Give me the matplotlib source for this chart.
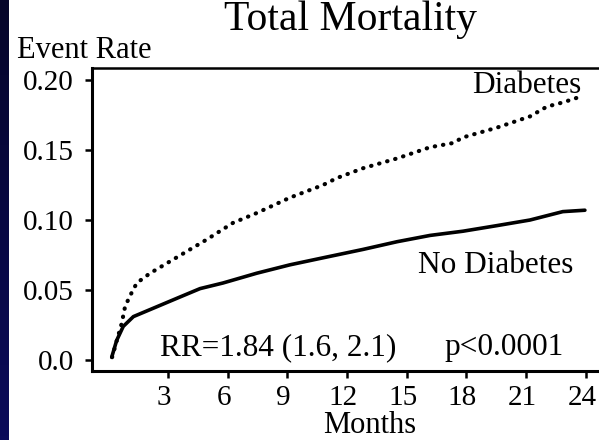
import numpy as np
import matplotlib
matplotlib.use("Agg")
import matplotlib.pyplot as plt
import matplotlib.transforms as mtransforms

# cumulative event rate by month of follow-up
diab_months = [0.19, 0.67, 0.84, 1.06, 1.43, 2.10, 2.93, 4.11, 4.94, 6.27, 7.46, 9.13,
               10.79, 11.49, 12.80, 14.51, 16.17, 17.32, 17.82, 19.53, 21.19, 22.04,
               22.84, 23.70]
diab_rate = [0.002, 0.026, 0.038, 0.045, 0.055, 0.062, 0.069, 0.079, 0.086, 0.098, 0.105,
             0.116, 0.125, 0.130, 0.137, 0.144, 0.152, 0.155, 0.159, 0.166, 0.174, 0.181,
             0.184, 0.188]

nodiab_months = [0.17, 0.42, 0.75, 1.26, 2.43, 3.60, 4.61, 5.76, 7.46, 9.13, 10.79, 12.80,
                 14.51, 16.17, 17.82, 19.53, 21.19, 22.84, 23.95]
nodiab_rate = [0.002, 0.014, 0.024, 0.031, 0.038, 0.045, 0.051, 0.055, 0.062, 0.068, 0.073,
               0.079, 0.0845, 0.089, 0.092, 0.096, 0.100, 0.106, 0.107]

xticks = [3, 6, 9, 12, 15, 18, 21, 24]
yticks = [0.0, 0.05, 0.10, 0.15, 0.20]
ytick_labels = ["0.0", "0.05", "0.10", "0.15", "0.20"]

plt.rcParams['font.family'] = ['Liberation Serif', 'DejaVu Serif']

W, H = 599, 440
fig = plt.figure(figsize=(W / 100, H / 100), dpi=100)
fig.patch.set_facecolor('white')

# navy strip along the left edge
band = fig.add_axes([0, 0, 8.5 / W, 1])
grad = np.linspace(0, 1, 100).reshape(-1, 1)
band.imshow(grad, aspect='auto', cmap=matplotlib.colors.LinearSegmentedColormap.from_list(
    'navy', ['#0b0b5a', '#05052a']), origin='lower')
band.axis('off')

ax = fig.add_axes([92 / W, 1 - 371 / H, 1 - 92 / W + 0.01, (371 - 68) / H])
ax.plot(diab_months, diab_rate, color='black', lw=3.0, ls=(0, (0.1, 1.9)),
        dash_capstyle='round')
ax.plot(nodiab_months, nodiab_rate, color='black', lw=2.6, solid_capstyle='round')

ax.set_xlim(-0.82, 24.66 + 0.3)
ax.set_ylim(-0.00786, 0.2086)
ax.set_xticks(xticks)
ax.set_xticklabels([str(t) for t in xticks])
ax.set_yticks(yticks)
ax.set_yticklabels(ytick_labels)
ax.tick_params(axis='both', direction='out', length=5, width=1.8, labelsize=21, colors='black')
ax.tick_params(axis='y', pad=8)
ax.tick_params(axis='x', pad=5)

# nudge month labels a little left so "24" stays on the canvas
shift = mtransforms.ScaledTranslation(-4 / 100, 0, fig.dpi_scale_trans)
for lbl in ax.get_xticklabels():
    lbl.set_transform(lbl.get_transform() + shift)

for side in ['left', 'bottom']:
    ax.spines[side].set_linewidth(2.2)
ax.spines['top'].set_linewidth(1.8)
ax.spines['right'].set_visible(False)

ax.text(23.75, 0.1907, "Diabetes", ha='right', va='baseline', fontsize=22.5)
ax.text(23.35, 0.0621, "No Diabetes", ha='right', va='baseline', fontsize=22.5)
ax.text(2.6, 0.0035, "RR=1.84 (1.6, 2.1)", ha='left', va='baseline', fontsize=22.5)
ax.text(16.9, 0.0035, "p<0.0001", ha='left', va='baseline', fontsize=22.5)

fig.text(350 / W, 1 - 30 / H, "Total Mortality", ha='center', va='baseline', fontsize=30)
fig.text(17 / W, 1 - 58 / H, "Event Rate", ha='left', va='baseline', fontsize=22)
fig.text(370 / W, 1 - 433 / H, "Months", ha='center', va='baseline', fontsize=22)

fig.savefig("out.png", dpi=100, facecolor='white')
